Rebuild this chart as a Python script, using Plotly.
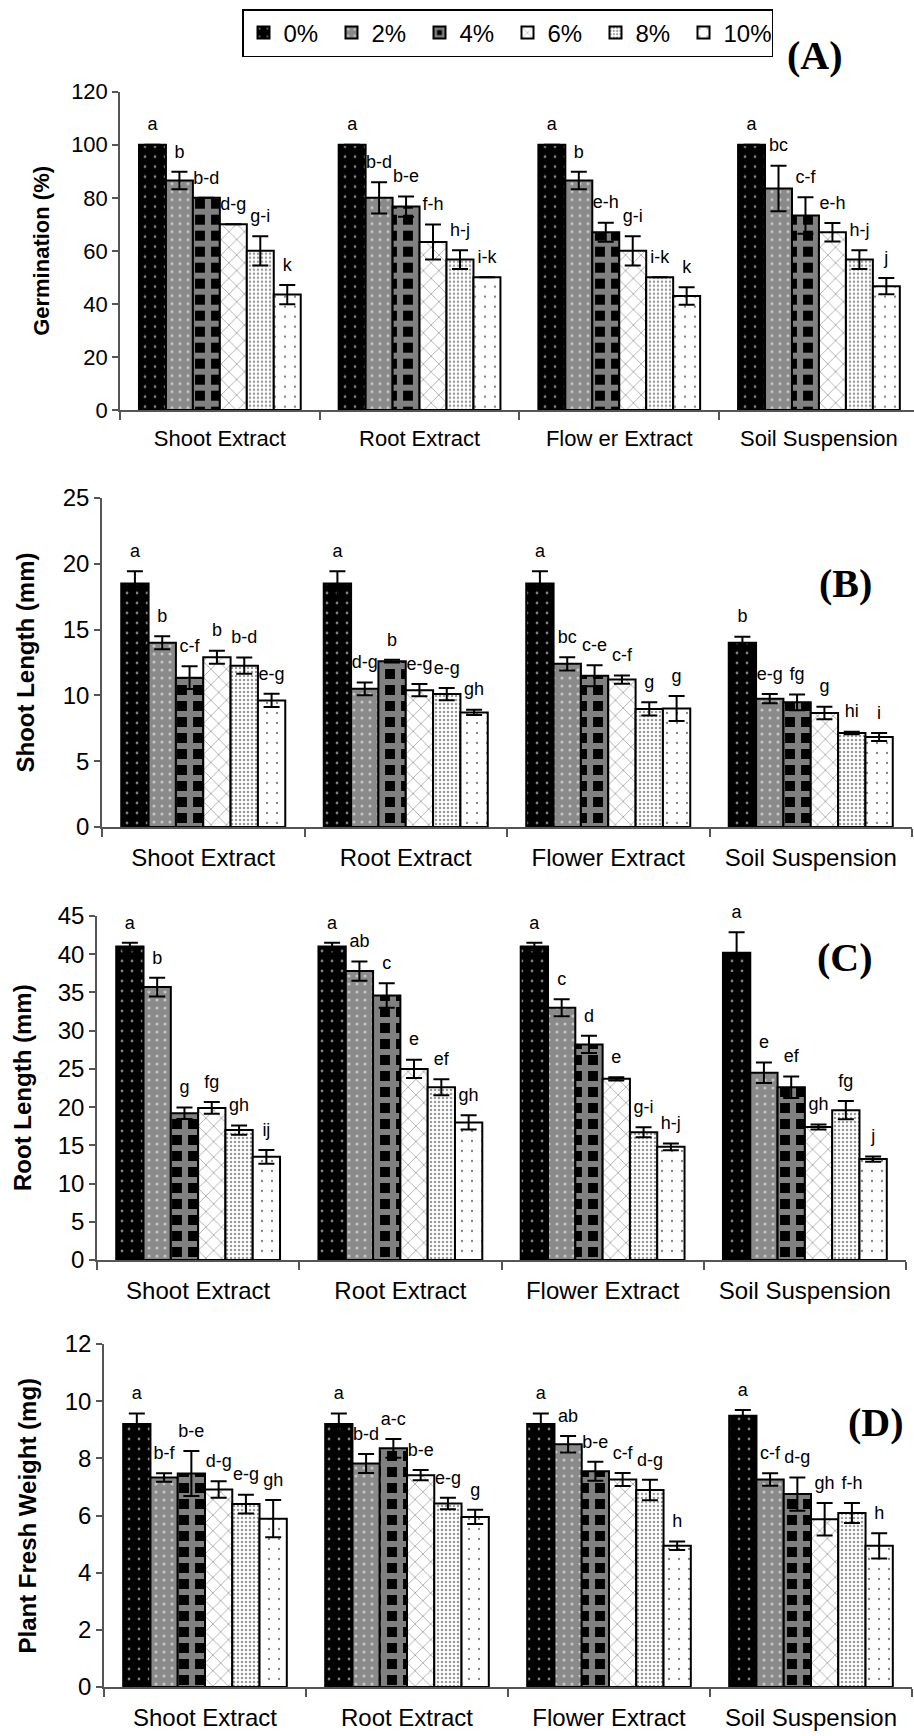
import plotly.graph_objects as go

# ---------------- data ----------------
concentrations = ["0%", "2%", "4%", "6%", "8%", "10%"]
categories = ["Shoot Extract", "Root Extract", "Flower Extract", "Soil Suspension"]
categories_A = ["Shoot Extract", "Root Extract", "Flow er Extract", "Soil Suspension"]

# rows = concentration (0..10 %), columns = categories
germination = [
    [100, 100, 100, 100],
    [86.5, 80.0, 86.5, 83.5],
    [80.0, 76.7, 67.0, 73.3],
    [70.0, 63.3, 60.0, 67.0],
    [60.0, 56.7, 50.0, 56.7],
    [43.5, 50.0, 43.0, 46.7],
]
germination_err = [
    [0, 0, 0, 0],
    [3.3, 5.9, 3.3, 8.6],
    [0, 3.8, 3.6, 6.9],
    [0, 6.6, 5.5, 3.5],
    [5.5, 3.5, 0, 3.5],
    [3.6, 0, 3.3, 3.1],
]
germination_letters = [
    ["a", "a", "a", "a"],
    ["b", "b-d", "b", "bc"],
    ["b-d", "b-e", "e-h", "c-f"],
    ["d-g", "f-h", "g-i", "e-h"],
    ["g-i", "h-j", "i-k", "h-j"],
    ["k", "i-k", "k", "j"],
]

shoot_length = [
    [18.5, 18.5, 18.5, 14.0],
    [14.0, 10.5, 12.4, 9.75],
    [11.35, 12.6, 11.5, 9.47],
    [12.9, 10.4, 11.2, 8.66],
    [12.26, 10.1, 8.97, 7.14],
    [9.62, 8.71, 9.0, 6.84],
]
shoot_length_err = [
    [0.94, 0.94, 0.94, 0.46],
    [0.5, 0.48, 0.5, 0.35],
    [0.87, 0.1, 0.8, 0.6],
    [0.5, 0.47, 0.32, 0.48],
    [0.62, 0.47, 0.5, 0.1],
    [0.5, 0.2, 0.95, 0.3],
]
shoot_length_letters = [
    ["a", "a", "a", "b"],
    ["b", "d-g", "bc", "e-g"],
    ["c-f", "b", "c-e", "fg"],
    ["b", "e-g", "c-f", "g"],
    ["b-d", "e-g", "g", "hi"],
    ["e-g", "gh", "g", "i"],
]

root_length = [
    [41.0, 41.0, 41.0, 40.2],
    [35.7, 37.8, 33.0, 24.5],
    [19.2, 34.6, 28.2, 22.6],
    [19.9, 25.0, 23.7, 17.4],
    [17.0, 22.6, 16.7, 19.6],
    [13.5, 18.0, 14.8, 13.2],
]
root_length_err = [
    [0.5, 0.5, 0.5, 2.66],
    [1.22, 1.26, 1.1, 1.35],
    [0.76, 1.6, 1.13, 1.42],
    [0.76, 1.2, 0.22, 0.33],
    [0.6, 1.05, 0.65, 1.2],
    [0.9, 0.94, 0.44, 0.35],
]
root_length_letters = [
    ["a", "a", "a", "a"],
    ["b", "ab", "c", "e"],
    ["g", "c", "d", "ef"],
    ["fg", "e", "e", "gh"],
    ["gh", "ef", "g-i", "fg"],
    ["ij", "gh", "h-j", "j"],
]

fresh_weight = [
    [9.2, 9.2, 9.2, 9.49],
    [7.33, 7.82, 8.49, 7.26],
    [7.47, 8.35, 7.55, 6.75],
    [6.91, 7.41, 7.26, 5.87],
    [6.4, 6.42, 6.89, 6.09],
    [5.89, 5.95, 4.94, 4.94],
]
fresh_weight_err = [
    [0.37, 0.37, 0.37, 0.2],
    [0.15, 0.33, 0.29, 0.22],
    [0.79, 0.33, 0.33, 0.58],
    [0.29, 0.18, 0.23, 0.57],
    [0.33, 0.2, 0.36, 0.35],
    [0.65, 0.25, 0.15, 0.44],
]
fresh_weight_letters = [
    ["a", "a", "a", "a"],
    ["b-f", "b-d", "ab", "c-f"],
    ["b-e", "a-c", "b-e", "d-g"],
    ["d-g", "b-e", "c-f", "gh"],
    ["e-g", "e-g", "d-g", "f-h"],
    ["gh", "g", "h", "h"],
]

y_titles = ["Germination (%)", "Shoot Length (mm)", "Root Length (mm)", "Plant Fresh Weight (mg)"]
panel_tags = ["(A)", "(B)", "(C)", "(D)"]
y_ranges = [[0, 120], [0, 25], [0, 45], [0, 12]]
y_dticks = [20, 5, 5, 2]

# ---------------- styling ----------------
W, H = 914, 1736
SANS = "Liberation Sans, Arial, sans-serif"
SERIF = "Liberation Serif, Times New Roman, serif"
AXC = "#555555"

patterns = [
    dict(color="black", pattern=dict(shape=".", fgcolor="white", bgcolor="black", size=10, solidity=0.06)),
    dict(color="#8a8a8a", pattern=dict(shape=".", fgcolor="white", bgcolor="#8a8a8a", size=8, solidity=0.12)),
    dict(color="black", pattern=dict(shape="+", fgcolor="white", bgcolor="black", size=16, solidity=0.62)),
    dict(color="white", pattern=dict(shape="x", fgcolor="#444444", bgcolor="white", size=11, solidity=0.14)),
    dict(color="white", pattern=dict(shape=".", fgcolor="#333333", bgcolor="white", size=4, solidity=0.3)),
    dict(color="white", pattern=dict(shape=".", fgcolor="black", bgcolor="white", size=10, solidity=0.04)),
]

# pixel geometry of the four panels: (x axis start, x axis end, y of zero, y of top)
panels_px = [
    (120, 914, 410, 91.7),
    (102, 912, 827, 498),
    (97, 906, 1260, 916),
    (104, 912, 1687, 1344),
]
cat_width_px = [199.7, 202.5, 202.25, 202.0]
title_x_px = [42, 25, 22, 27]
tag_pos_px = [(815, 56), (845, 583), (845, 957), (876, 1422)]
font_sizes = [22, 24, 24, 24]

panel_data = [
    (germination, germination_err, germination_letters, categories_A),
    (shoot_length, shoot_length_err, shoot_length_letters, categories),
    (root_length, root_length_err, root_length_letters, categories),
    (fresh_weight, fresh_weight_err, fresh_weight_letters, categories),
]

fig = go.Figure()
annotations = []

for p, (vals, errs, letters, cats) in enumerate(panel_data):
    ax = "" if p == 0 else str(p + 1)
    for j, conc in enumerate(concentrations):
        fig.add_trace(go.Bar(
            x=cats, y=vals[j], name=conc,
            marker=dict(line=dict(color="black", width=2), **patterns[j]),
            error_y=dict(type="data", array=errs[j], visible=True, color="black",
                         thickness=2, width=8),
            offsetgroup="g%d" % j, legendgroup=conc, showlegend=(p == 0),
            xaxis="x" + ax, yaxis="y" + ax, hoverinfo="skip",
        ))
    for j, conc in enumerate(concentrations):
        tops = [v + e for v, e in zip(vals[j], errs[j])]
        fig.add_trace(go.Scatter(
            x=cats, y=tops, mode="markers+text", text=letters[j],
            textposition="top center",
            textfont=dict(family=SANS, size=18, color="black"),
            marker=dict(size=14, color="rgba(0,0,0,0)"),
            offsetgroup="g%d" % j, showlegend=False, cliponaxis=False,
            xaxis="x" + ax, yaxis="y" + ax, hoverinfo="skip",
        ))

    x0, x1, yz, yt = panels_px[p]
    cw = cat_width_px[p]
    xr_end = -0.5 + (x1 - x0) / cw
    fs = font_sizes[p]
    fig.layout["xaxis" + ax] = dict(
        domain=[x0 / W, x1 / W], anchor="y" + ax, type="category",
        categoryorder="array", categoryarray=cats, automargin=False,
        range=[-0.5, xr_end], tickson="boundaries", ticks="outside", ticklen=8,
        tickcolor=AXC, tickwidth=1.5, showline=True, linecolor=AXC, linewidth=1.5,
        showgrid=False, zeroline=False, ticklabelstandoff=8,
        tickfont=dict(family=SANS, size=fs, color="black"),
    )
    fig.layout["yaxis" + ax] = dict(
        domain=[(H - yz) / H, (H - yt) / H], anchor="x" + ax, automargin=False,
        range=y_ranges[p], dtick=y_dticks[p], tick0=0, ticks="outside", ticklen=6,
        tickcolor=AXC, tickwidth=1.5, showline=True, linecolor=AXC, linewidth=1.5,
        showgrid=False, zeroline=False,
        tickfont=dict(family=SANS, size=fs, color="black"),
    )
    annotations.append(dict(
        text="<b>%s</b>" % y_titles[p], xref="paper", yref="paper",
        x=title_x_px[p] / W, y=(H - (yz + yt) / 2) / H, xanchor="center", yanchor="middle",
        textangle=-90, showarrow=False, font=dict(family=SANS, size=fs, color="black"),
    ))
    tx, ty = tag_pos_px[p]
    annotations.append(dict(
        text="<b>%s</b>" % panel_tags[p], xref="paper", yref="paper",
        x=tx / W, y=(H - ty) / H, xanchor="center", yanchor="middle",
        showarrow=False, font=dict(family=SERIF, size=40, color="black"),
    ))

fig.update_layout(
    width=W, height=H, margin=dict(l=0, r=0, t=0, b=0, autoexpand=False),
    paper_bgcolor="white", plot_bgcolor="white",
    barmode="group", bargap=0.19, bargroupgap=0,
    scattermode="group", scattergap=0.19,
    annotations=annotations,
    legend=dict(
        orientation="h", x=242 / W, y=1 - 9 / H, xanchor="left", yanchor="top",
        bordercolor="black", borderwidth=1.5, bgcolor="white",
        font=dict(family=SANS, size=24, color="black"),
        entrywidth=43, traceorder="normal",
    ),
    showlegend=True,
)

fig.write_html(
    "out.html",
    config={"displayModeBar": False},
    post_script="document.body.style.margin='0';document.body.style.overflow='hidden';",
)
